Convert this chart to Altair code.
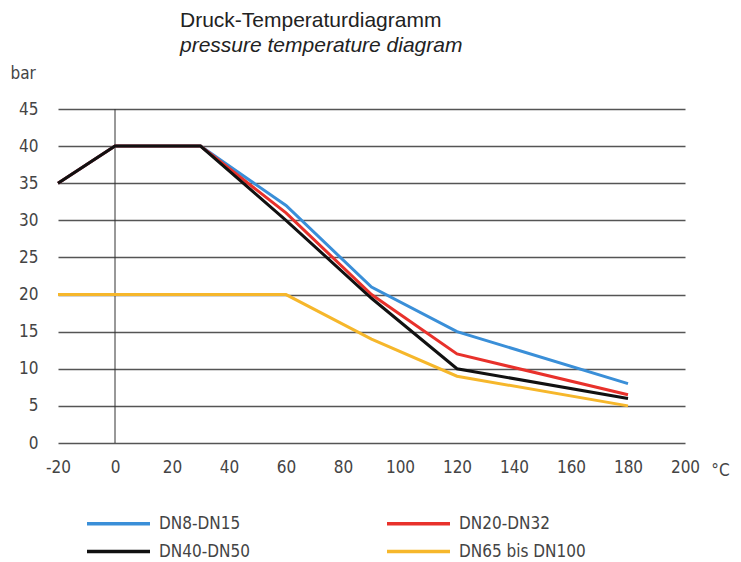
import altair as alt
import pandas as pd

series_names = ["DN8-DN15", "DN20-DN32", "DN40-DN50", "DN65 bis DN100"]
series_colors = ["#3a8fd8", "#e8312b", "#111111", "#f6b72b"]

temp_dn8 = [-20, 0, 30, 60, 90, 120, 180]
bar_dn8 = [35, 40, 40, 32, 21, 15, 8]
temp_dn20 = [-20, 0, 30, 60, 90, 120, 180]
bar_dn20 = [35, 40, 40, 31, 20, 12, 6.5]
temp_dn40 = [-20, 0, 30, 60, 90, 120, 180]
bar_dn40 = [35, 40, 40, 30, 19.5, 10, 6]
temp_dn65 = [-20, 0, 60, 90, 120, 180]
bar_dn65 = [20, 20, 20, 14, 9, 5]

x_ticks = list(range(-20, 201, 20))
y_ticks = list(range(0, 46, 5))
zero_line = [0]

rows = []
for name, xs, ys in zip(series_names,
                        [temp_dn8, temp_dn20, temp_dn40, temp_dn65],
                        [bar_dn8, bar_dn20, bar_dn40, bar_dn65]):
    for i, (x, y) in enumerate(zip(xs, ys)):
        rows.append({"serie": name, "temp": x, "bar": y, "idx": i})
df = pd.DataFrame(rows)

LABEL_FONT = "'DejaVu Sans Condensed', 'Roboto Condensed', Roboto, sans-serif"
x_scale = alt.Scale(domain=[-20, 200], nice=False, zero=False)
y_scale = alt.Scale(domain=[0, 45], nice=False)

zero_rule = alt.Chart(pd.DataFrame({"temp": zero_line})).mark_rule(
    color="#333333", strokeWidth=1
).encode(
    x=alt.X("temp:Q", scale=x_scale),
    y=alt.value(0),
    y2=alt.value(334),
)

lines = alt.Chart(df).mark_line(strokeWidth=3).encode(
    x=alt.X("temp:Q", scale=x_scale,
            axis=alt.Axis(values=x_ticks, grid=False, ticks=False, domain=False,
                          labelExpr="datum.value + ''",
                          labelPadding=16, labelFontSize=17, labelFont=LABEL_FONT,
                          labelColor="#444444", title="°C", titleFont=LABEL_FONT,
                          titleFontSize=17, titleFontWeight="normal", titleColor="#444444",
                          titleX=662, titleY=27, titleAlign="center",
                          titleBaseline="middle", labelFlush=False)),
    y=alt.Y("bar:Q", scale=y_scale,
            axis=alt.Axis(values=y_ticks, grid=True, gridColor="#555555",
                          gridWidth=1.3, ticks=False, domain=False, labelPadding=20,
                          labelFontSize=17, labelFont=LABEL_FONT, labelColor="#444444",
                          title="bar", titleAngle=0, titleFont=LABEL_FONT,
                          titleFontSize=17, titleFontWeight="normal", titleColor="#444444",
                          titleX=-48, titleY=-36, titleAlign="left",
                          titleBaseline="middle")),
    color=alt.Color("serie:N",
                    scale=alt.Scale(domain=series_names, range=series_colors),
                    legend=alt.Legend(orient="none", legendX=48, legendY=402,
                                      direction="horizontal",
                                      columns=2, title=None, symbolType="M-3,0H3",
                                      symbolSize=441, symbolStrokeWidth=3.5,
                                      labelFont=LABEL_FONT, labelFontSize=17,
                                      labelColor="#444444", columnPadding=130,
                                      rowPadding=7, labelOffset=28)),
    order="idx:Q",
)

chart = alt.layer(zero_rule, lines).properties(
    width=627,
    height=334,
    autosize=alt.AutoSizeParams(type="none"),
    padding={"left": 50, "top": 101, "right": 48, "bottom": 116},
    title=alt.TitleParams(
        "Druck-Temperaturdiagramm",
        subtitle="pressure temperature diagram",
        anchor="start", frame="group", dx=122, offset=8,
        font="Liberation Sans", fontSize=21, fontWeight="normal", color="#222222",
        subtitleFont="Liberation Sans", subtitleFontSize=21,
        subtitleFontStyle="italic", subtitleColor="#222222", subtitlePadding=4,
    ),
).configure_view(stroke=None)

chart.save("out.html", embed_options={"renderer": "svg", "actions": False})
